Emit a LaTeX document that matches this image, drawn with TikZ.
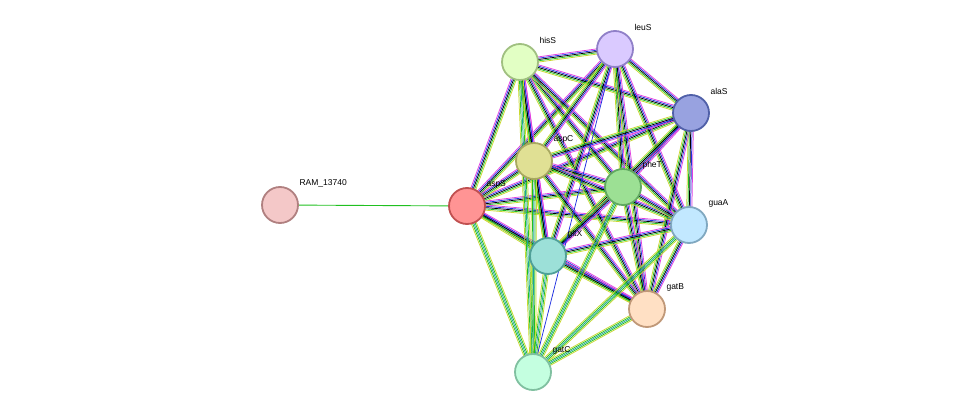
\documentclass[tikz,border=0pt]{standalone}
\usepackage{fontspec}
\setmainfont{Liberation Sans}
\usetikzlibrary{calc}
\pgfdeclarelayer{bg}
\pgfsetlayers{bg,main}
\definecolor{eyg}{HTML}{C8D830}
\definecolor{egr}{HTML}{20C020}
\definecolor{ebl}{HTML}{2030E0}
\definecolor{emg}{HTML}{E040E0}
\definecolor{ecy}{HTML}{20A0A0}
\tikzset{
  pn/.style={circle,minimum size=36pt,inner sep=0pt,line width=1.8pt},
  lab/.style={font=\fontsize{8.5}{10}\selectfont,anchor=west},
}
\newcommand\bund[3]{%
  \foreach \c [count=\i] in {#3}{%
    \pgfmathsetmacro\o{(\i-3)*1.3}%
    \draw[\c,line width=0.75pt] ($(#1.center)!\o pt!90:(#2.center)$) -- ($(#2.center)!\o pt!-90:(#1.center)$);
  }}
\newcommand\nd[6]{\definecolor{f#1}{HTML}{#5}\definecolor{d#1}{HTML}{#6}%
  \node[pn,fill=f#1,draw=d#1] (#1) at (#3,#4) {};
  \node[lab] (l#1) at ($(#3,#4)+(16,-22)$) {#2};}
\begin{document}
\begin{tikzpicture}[x=1pt,y=-1pt]
\useasboundingbox (0,0) rectangle (976,417);
\nd{RAM}{RAM\_13740}{280}{205}{F4C8C8}{B08080}
\nd{aspS}{aspS}{467}{206}{FF9494}{C05050}
\nd{hisS}{hisS}{520}{62}{E2FFC4}{A0C080}
\nd{leuS}{leuS}{615}{49}{DACAFF}{9080C8}
\nd{alaS}{alaS}{691}{113}{98A2E0}{5060A8}
\nd{aspC}{aspC}{534}{161}{E0E094}{A8A860}
\nd{pheT}{pheT}{623}{187}{9CE094}{60A860}
\nd{guaA}{guaA}{689}{225}{C2E8FF}{80A8C0}
\nd{gltX}{gltX}{548}{256}{9CE0D8}{50A098}
\nd{gatB}{gatB}{647}{309}{FFE0C4}{C09878}
\nd{gatC}{gatC}{533}{372}{C4FFE0}{80C0A0}
\begin{pgfonlayer}{bg}
\draw[egr,line width=0.9pt] (RAM) -- (aspS);
\foreach \a/\b in {aspS/hisS,aspS/leuS,aspS/alaS,aspS/aspC,aspS/pheT,aspS/guaA,aspS/gltX,aspS/gatB,
  hisS/leuS,hisS/alaS,hisS/aspC,hisS/pheT,hisS/gltX,hisS/gatB,hisS/guaA,
  leuS/alaS,leuS/aspC,leuS/pheT,leuS/gltX,leuS/gatB,leuS/guaA,
  alaS/aspC,alaS/pheT,alaS/gltX,alaS/gatB,alaS/guaA,
  aspC/pheT,aspC/gltX,aspC/gatB,aspC/guaA,
  pheT/gltX,pheT/gatB,pheT/guaA,gltX/gatB,gltX/guaA,guaA/gatB}
  {\bund{\a}{\b}{eyg,egr,black,ebl,emg}}
\foreach \a/\b in {gatC/aspS,gatC/hisS,gatC/aspC,gatC/gltX,gatC/gatB,gatC/pheT,gatC/guaA}
  {\bund{\a}{\b}{eyg,egr,ecy,egr,eyg}}
\draw[ebl,line width=0.75pt] (gatC) -- (leuS);
\end{pgfonlayer}
\end{tikzpicture}
\end{document}
